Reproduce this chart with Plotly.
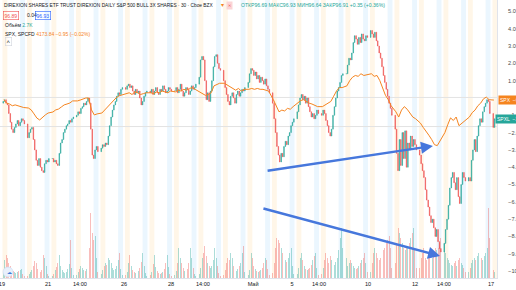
import plotly.graph_objects as go

# ---------------- data (percent change vs. start of visible range) ----------------
session_days = ["19", "20", "21", "22", "23", "26", "27", "28", "29", "30",
                "3", "4", "5", "6", "7", "10", "11", "12", "13", "14", "17"]
BARS_PER_DAY = 16       # 30-min SPXL bars drawn per session
SPX_PER_DAY = 8         # SPX comparison points per session

spxl_open0 = -0.3
spxl_close = [
    -0.2, -0.1, -0.3, -0.4, -0.9, -1.4, -1.8, -2.0, -1.7, -1.5, -1.3, -1.6, -1.4, -1.2, -1.3, -1.5,   # Apr 19
    -2.3, -2.0, -1.8, -1.7, -2.4, -3.0, -3.6, -3.9, -3.5, -4.0, -4.2, -4.3, -3.8, -3.6, -3.7, -3.5,   # Apr 20
    -3.5, -3.7, -3.6, -3.8, -3.9, -3.2, -2.6, -2.4, -2.0, -1.8, -1.6, -1.5, -1.3, -1.4, -1.2, -1.1,   # Apr 21
    -1.0, -0.8, -0.9, -0.6, -0.5, -0.3, -0.4, -0.2, 0.0, -0.3, -1.8, -3.3, -3.5, -3.0, -2.8, -3.1,    # Apr 22
    -2.9, -2.7, -2.8, -2.6, -2.7, -2.2, -1.6, -1.1, -0.7, -0.4, -0.2, 0.1, 0.3, 0.2, 0.5, 0.6,        # Apr 23
    0.5, 0.7, 0.8, 0.6, 0.7, 0.4, 0.2, 0.5, 0.3, 0.4, 0.0, -0.4, -0.2, 0.1, 0.3, 0.4,                 # Apr 26
    0.3, 0.5, 0.2, 0.4, 0.6, 0.3, 0.2, 0.5, 0.4, 0.7, 0.5, 0.3, 0.4, 0.6, 0.5, 0.4,                   # Apr 27
    0.4, 0.6, 0.3, 0.5, 0.8, 0.4, 0.1, 0.3, 0.6, 0.5, 0.2, 0.4, 0.7, 0.5, 0.6, 0.8,                   # Apr 28
    1.2, 2.2, 2.4, 2.2, 1.0, -0.1, 0.3, -0.2, 0.4, 1.0, 1.8, 2.4, 2.5, 2.0, 1.7, 1.6,                 # Apr 29
    1.0, 0.6, 0.2, -0.2, -0.4, 0.1, 0.3, 0.0, -0.3, 0.2, 0.4, 0.1, 0.3, 0.5, 0.4, 0.6,                # Apr 30
    0.9, 1.4, 1.7, 1.6, 1.3, 1.5, 1.1, 1.3, 0.9, 1.2, 1.0, 0.8, 1.1, 0.7, 0.5, 0.3,                   # May 3
    -0.3, -1.2, -2.0, -2.8, -3.3, -3.7, -3.2, -3.4, -2.8, -2.5, -2.7, -2.2, -2.0, -1.6, -1.4, -1.2,   # May 4
    -0.8, -0.4, 0.0, 0.2, -0.1, 0.1, -0.3, 0.0, -0.5, -0.8, -1.1, -0.9, -1.2, -1.0, -0.7, -0.9,       # May 5
    -1.0, -0.7, -0.9, -1.3, -1.6, -2.0, -2.2, -1.8, -1.0, -0.5, 0.0, 0.4, 0.6, 0.9, 1.3, 1.4,         # May 6
    1.4, 1.9, 2.3, 2.2, 2.6, 3.2, 3.6, 3.4, 3.1, 3.5, 3.2, 3.7, 3.4, 3.3, 3.6, 3.5,                   # May 7
    3.9, 3.7, 3.5, 3.8, 3.3, 3.0, 2.6, 2.3, 1.8, 1.3, 0.9, 0.5, 0.1, -0.3, -0.6, -1.0,                # May 10
    -1.8, -3.2, -4.2, -2.4, -3.9, -2.0, -3.5, -1.9, -4.0, -2.6, -3.0, -2.2, -2.8, -2.4, -2.7, -3.0,   # May 11
    -3.3, -3.8, -4.2, -4.6, -5.3, -5.9, -6.3, -6.8, -7.2, -7.0, -7.5, -8.0, -7.6, -8.3, -8.7, -8.9,   # May 12
    -8.4, -7.6, -7.0, -6.2, -5.2, -4.6, -4.3, -4.9, -5.3, -4.6, -5.7, -6.1, -5.0, -4.3, -4.6, -4.8,   # May 13
    -4.6, -4.8, -3.6, -3.0, -2.4, -3.1, -2.2, -1.6, -1.2, -1.4, -0.8, -0.5, -0.3, -0.1, -0.2, -0.9,   # May 14
    -1.7, -1.2,                                                                                        # May 17
]

spxl_volume = [  # thousands of shares
    60, 180, 230, 200, 150, 120, 90, 70, 60, 50, 60, 70, 80, 90, 40, 20,
    20, 40, 60, 80, 120, 170, 150, 90, 70, 60, 80, 230, 200, 120, 40, 20,
    20, 40, 80, 110, 150, 230, 120, 80, 60, 50, 60, 90, 140, 380, 100, 30,
    30, 60, 90, 120, 100, 80, 70, 90, 150, 300, 650, 450, 380, 420, 200, 60,
    40, 80, 120, 150, 130, 200, 180, 150, 100, 80, 90, 120, 180, 250, 90, 30,
    30, 60, 150, 230, 120, 80, 60, 50, 60, 70, 100, 160, 250, 120, 50, 20,
    30, 60, 140, 230, 110, 70, 50, 40, 50, 60, 90, 150, 230, 110, 40, 20,
    30, 70, 150, 300, 200, 150, 100, 70, 80, 90, 150, 300, 200, 100, 40, 20,
    40, 100, 200, 250, 320, 220, 150, 120, 100, 120, 180, 300, 200, 120, 50, 20,
    30, 80, 150, 200, 180, 250, 200, 120, 80, 70, 90, 120, 150, 250, 320, 60,
    30, 80, 250, 200, 120, 90, 70, 60, 70, 80, 100, 150, 200, 180, 90, 30,
    50, 150, 300, 400, 380, 350, 300, 250, 200, 180, 160, 200, 250, 300, 120, 40,
    40, 100, 200, 250, 180, 120, 90, 80, 90, 100, 130, 180, 220, 250, 100, 30,
    40, 100, 180, 250, 200, 150, 220, 180, 150, 130, 160, 200, 280, 400, 500, 300,
    200, 120, 150, 180, 150, 120, 100, 90, 100, 120, 150, 180, 200, 250, 150, 60,
    60, 150, 250, 300, 250, 200, 180, 200, 250, 280, 300, 350, 380, 420, 300, 100,
    150, 350, 500, 450, 400, 350, 300, 280, 300, 320, 350, 400, 450, 500, 300, 100,
    100, 200, 250, 300, 200, 180, 200, 250, 220, 200, 250, 300, 280, 300, 350, 400,
    350, 250, 200, 180, 150, 130, 120, 150, 170, 120, 180, 200, 150, 130, 100, 60,
    60, 100, 150, 180, 200, 180, 220, 250, 230, 200, 180, 220, 250, 300, 700, 400,
    80, 60,
]

spx_pct = [
    -0.1, -0.3, -0.35, -0.45, -0.4, -0.45, -0.5, -0.55,
    -0.58, -0.69, -0.92, -1.16, -1.27, -1.1, -0.98, -0.87,
    -0.81, -0.69, -0.64, -0.52, -0.40, -0.35, -0.29, -0.17,
    -0.17, -0.12, -0.06, 0.0, 0.0, -0.69, -0.98, -0.92,
    -0.87, -0.69, -0.52, -0.35, -0.17, 0.0, 0.12, 0.17,
    0.25, 0.3, 0.2, 0.35, 0.3, 0.2, 0.25, 0.3,
    0.3, 0.25, 0.35, 0.3, 0.4, 0.35, 0.3, 0.4,
    0.35, 0.45, 0.4, 0.5, 0.45, 0.55, 0.6, 0.5,
    0.35, 0.25, 0.15, 0.2, 0.3, 0.7, 0.8, 0.85,
    0.85, 0.75, 0.6, 0.5, 0.45, 0.55, 0.4, 0.5,
    0.5, 0.55, 0.5, 0.55, 0.5, 0.5, 0.45, 0.4,
    -0.1, -0.5, -0.8, -0.7, -0.75, -0.6, -0.65, -0.5,
    -0.3, -0.15, -0.1, -0.2, -0.3, -0.35, -0.45, -0.5,
    -0.5, -0.4, -0.3, -0.2, 0.1, 0.4, 0.6, 0.6,
    0.7, 1.0, 1.2, 1.3, 1.25, 1.4, 1.3, 1.35,
    1.4, 1.25, 1.3, 1.0, 0.6, 0.15, -0.1, -0.45,
    -0.8, -1.1, -0.7, -0.5, -0.65, -0.85, -1.1, -1.2,
    -1.45, -1.7, -1.9, -2.15, -2.4, -2.7, -2.75, -2.45,
    -2.0, -1.55, -1.15, -1.3, -1.1, -1.6, -1.45, -1.3,
    -1.1, -0.85, -0.7, -0.45, -0.3, -0.05, 0.05, -0.1,
    -0.12,
]

x_tick_pos = [0.04, 1.92, 3.22, 5.02, 6.94, 8.24, 10.29, 11.88, 12.98, 14.98, 16.9, 18.08, 20.0]
x_tick_text = ["19", "21", "14:00", "26", "28", "14:00", "Май", "5", "14:00", "10", "12", "14:00", "17"]
y_tick_vals = list(range(-10, 6))
ref_levels = [0.03, -1.65]
# user-drawn trend arrows: (start day, start %, end day, end %)
trend_arrows = [(10.82, -4.22, 17.63, -2.77), (10.65, -6.36, 17.92, -9.13)]

# ---------------- styling ----------------
UP, DOWN = "#26a69a", "#ef5350"
ORANGE = "#f5841f"
BLUE = "#4677dc"
FONT = "Liberation Sans, Arial, sans-serif"
TXT = "#131722"
W, H = 516, 290
ML, MR, MT, MB = 0, 19, 0, 12
PW, PH = W - ML - MR, H - MT - MB

bar_x = [i // BARS_PER_DAY + 0.09 + 0.0576 * (i % BARS_PER_DAY) for i in range(len(spxl_close))]
spx_x = [j // SPX_PER_DAY + 0.118 + 0.115 * (j % SPX_PER_DAY) for j in range(len(spx_pct))]
opens = [spxl_open0] + spxl_close[:-1]
highs = [max(o, c) for o, c in zip(opens, spxl_close)]
lows = [min(o, c) for o, c in zip(opens, spxl_close)]
vol_colors = ["rgba(38,166,154,0.38)" if c >= o else "rgba(239,83,80,0.38)"
              for o, c in zip(opens, spxl_close)]

fig = go.Figure()
fig.add_trace(go.Bar(x=bar_x, y=spxl_volume, yaxis="y2", marker_color=vol_colors,
                     marker_line_width=0, width=0.04, hoverinfo="skip", showlegend=False))
fig.add_trace(go.Candlestick(
    x=bar_x, open=opens, high=highs, low=lows, close=spxl_close,
    increasing=dict(line=dict(color=UP, width=0.5), fillcolor=UP),
    decreasing=dict(line=dict(color=DOWN, width=0.5), fillcolor=DOWN),
    whiskerwidth=0, showlegend=False, hoverinfo="skip"))
fig.add_trace(go.Scatter(x=spx_x, y=spx_pct, mode="lines", line=dict(color=ORANGE, width=1),
                         hoverinfo="skip", showlegend=False))

shapes = []
for d in range(len(session_days)):
    shapes.append(dict(type="rect", xref="x", yref="paper", x0=d + 0.06, x1=d + 0.26, y0=0, y1=1,
                       fillcolor="rgba(255,152,0,0.09)", line_width=0, layer="below"))
    if d < len(session_days) - 1:
        shapes.append(dict(type="rect", xref="x", yref="paper", x0=d + 0.78, x1=d + 0.98, y0=0, y1=1,
                           fillcolor="rgba(33,150,243,0.09)", line_width=0, layer="below"))
for lv in ref_levels:
    shapes.append(dict(type="line", xref="paper", yref="y", x0=0, x1=1, y0=lv, y1=lv,
                       line=dict(color="#e3e3e3", width=1), layer="below"))


def px(x):
    return x / PW


def py(y):
    return 1 - y / PH


# small logo circle at the bottom-left
shapes.append(dict(type="circle", xref="paper", yref="paper", x0=px(3), x1=px(13), y0=py(277), y1=py(267),
                   fillcolor="#e8f0fb", line=dict(color="#c7d8f3", width=0.6)))

ann = []
for x0, y0, x1, y1 in trend_arrows:
    ann.append(dict(x=x1, y=y1, ax=x0, ay=y0, xref="x", yref="y", axref="x", ayref="y",
                    text="", showarrow=True, arrowhead=2, arrowsize=1, arrowwidth=2.4,
                    arrowcolor=BLUE))


def label(x, y, text, size=5.2, color=TXT, **kw):
    d = dict(x=px(x), y=py(y), xref="paper", yref="paper", xanchor="left", yanchor="middle",
             text=text, showarrow=False, font=dict(family=FONT, size=size, color=color))
    d.update(kw)
    ann.append(d)


label(2, 5, "DIREXION SHARES ETF TRUST DIREXION DAILY S&amp;P 500 BULL 3X SHARES · 30 · Cboe BZX", size=4.8)
label(219, 5, "▾", size=6, color=ORANGE)
label(226, 5, "✕", size=4.3, color=DOWN, bgcolor="#fbd5d5")
label(239, 5, "ОТКР96.69 МАКС96.93 МИН96.64 ЗАКР96.91 +0.35 (+0.36%)", size=5.1, color=UP)
label(3, 15, "96.89", size=5, color=DOWN, bordercolor=DOWN, borderwidth=0.6, borderpad=1)
label(25, 15, "0.04", size=5, color=TXT)
label(35, 15, "96.93", size=5, color="#2962ff", bordercolor="#2962ff", borderwidth=0.6, borderpad=1)
label(3, 25, f"Объём <span style='color:{UP}'>2.7K</span>", size=5)
label(3, 34, f"SPX, SPCFD <span style='color:{ORANGE}'>4173.84 −0.95 (−0.02%)</span>", size=5)
label(5, 42, "˄", size=6, color=TXT, bordercolor="#d1d4dc", borderwidth=0.6, borderpad=1)
label(5, 272, "☁", size=5, color="#3d7bd9")

last_spx = spx_pct[-1]
last_spxl = spxl_close[-1]
ann.append(dict(x=1, y=last_spx, xref="paper", yref="y", xanchor="left", yanchor="middle",
                text=f"SPX  {last_spx:.2f}%".replace("-", "−"), showarrow=False, xshift=1,
                bgcolor=ORANGE, font=dict(family=FONT, size=5, color="white"), borderpad=1))
ann.append(dict(x=1, y=last_spxl, xref="paper", yref="y", xanchor="left", yanchor="middle",
                text=f"SPXL  {last_spxl:.2f}%".replace("-", "−"), showarrow=False, xshift=-2,
                bgcolor=UP, font=dict(family=FONT, size=5, color="white"), borderpad=1))

# the 0% label sits under the SPX price box, as in the reference
y_tick_text = ["" if v == 0 else f"{v:.2f}%".replace("-", "−") for v in y_tick_vals]

fig.update_layout(
    width=W, height=H, margin=dict(l=ML, r=MR, t=MT, b=MB),
    paper_bgcolor="white", plot_bgcolor="white",
    font=dict(family=FONT, size=5.6, color=TXT),
    shapes=shapes, annotations=ann, bargap=0, boxgap=0.4,
    xaxis=dict(range=[-0.041, 20.245], tickvals=x_tick_pos, ticktext=x_tick_text,
               showgrid=False, zeroline=False, showline=True, linecolor="#e0e3eb",
               ticks="", tickfont=dict(size=5.6, color=TXT), automargin=False,
               ticklabeloverflow="allow", rangeslider=dict(visible=False), fixedrange=True),
    yaxis=dict(range=[-10.4, 5.66], side="right", tickvals=y_tick_vals, ticktext=y_tick_text,
               showgrid=False, zeroline=False, showline=True, linecolor="#e0e3eb",
               ticks="", ticklabelstandoff=9, tickfont=dict(size=5.6, color="#4a4a4a"),
               automargin=False),
    yaxis2=dict(range=[0, 2780], overlaying="y", visible=False),
)

fig.write_html("out.html")
